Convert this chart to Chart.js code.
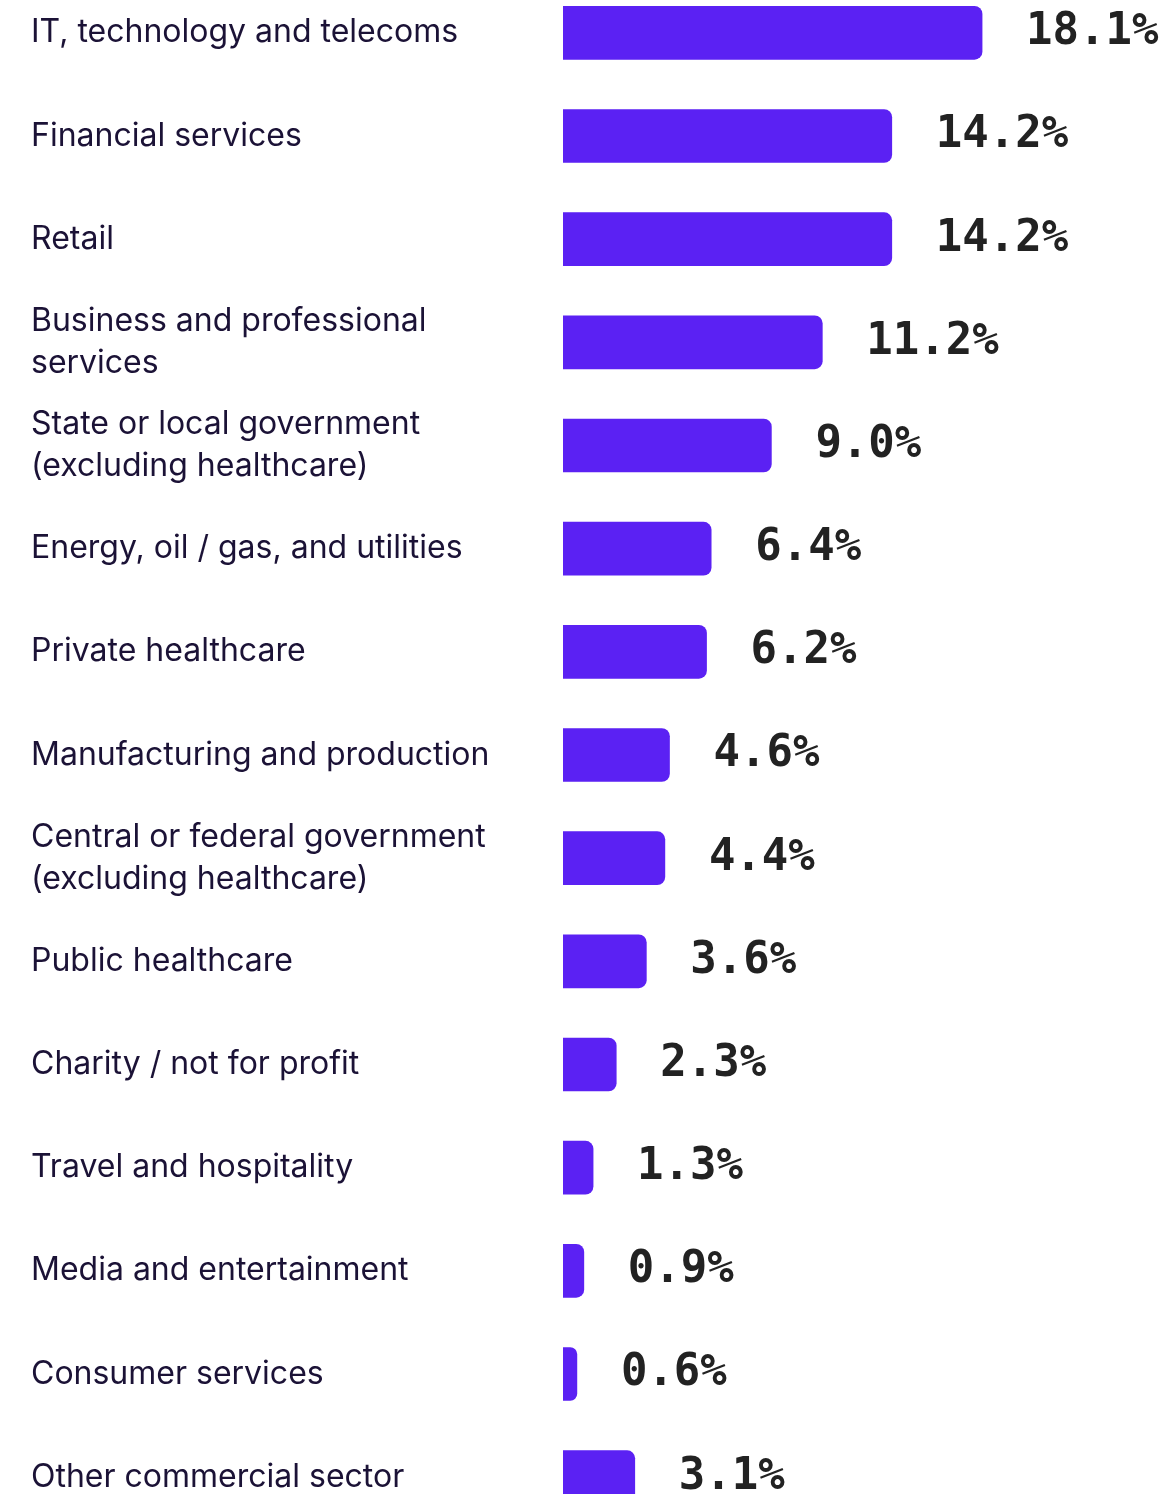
<!DOCTYPE html>
<html>
<head>
<meta charset="utf-8">
<title>Sectors</title>
<script src="https://cdn.jsdelivr.net/npm/chart.js@4"></script>
<style>
  html, body { margin: 0; padding: 0; background: #fff; overflow: hidden; }
  body { width: 1174px; height: 1494px; position: relative; }
  #wrap { position: absolute; left: 0; top: -43px; width: 1174px; height: 1596px; }
</style>
</head>
<body>
<div id="wrap"><canvas id="sectors"></canvas></div>
<script>
// Sector names (arrays wrap onto two lines)
const sectors = [
    'IT, technology and telecoms',
    'Financial services',
    'Retail',
    ['Business and professional', 'services'],
    ['State or local government', '(excluding healthcare)'],
    'Energy, oil / gas, and utilities',
    'Private healthcare',
    'Manufacturing and production',
    ['Central or federal government', '(excluding healthcare)'],
    'Public healthcare',
    'Charity / not for profit',
    'Travel and hospitality',
    'Media and entertainment',
    'Consumer services',
    'Other commercial sector'
];

// Share of respondents, percent
const shares = [18.1, 14.2, 14.2, 11.2, 9.0, 6.4, 6.2, 4.6, 4.4, 3.6, 2.3, 1.3, 0.9, 0.6, 3.1];

const barColor = '#5b21f3';

// Writes the percentage just past the end of each bar
const valueLabels = {
    id: 'valueLabels',
    afterDatasetsDraw(chart) {
        const ctx = chart.ctx;
        const meta = chart.getDatasetMeta(0);
        ctx.save();
        ctx.font = 'bold 44px "DejaVu Sans Mono"';
        ctx.fillStyle = '#222222';
        ctx.textAlign = 'left';
        ctx.textBaseline = 'middle';
        meta.data.forEach((bar, i) => {
            ctx.fillText(shares[i].toFixed(1) + '%', bar.x + 44, bar.y);
        });
        ctx.restore();
    }
};

const ctx = document.getElementById('sectors').getContext('2d');
const chart = new Chart(ctx, {
    type: 'bar',
    data: {
        labels: sectors,
        datasets: [{
            data: shares,
            backgroundColor: barColor,
            borderWidth: 0,
            borderRadius: 8,
            barThickness: 53
        }]
    },
    options: {
        indexAxis: 'y',
        responsive: true,
        maintainAspectRatio: false,
        animation: false,
        layout: {
            padding: { left: 31, right: 9, top: 0, bottom: 0 }
        },
        plugins: {
            legend: { display: false },
            tooltip: { enabled: false }
        },
        scales: {
            x: {
                display: false,
                min: 0,
                max: 26
            },
            y: {
                grid: { display: false },
                border: { display: false },
                afterFit(scale) {
                    scale.width = 532;
                },
                ticks: {
                    crossAlign: 'far',
                    color: '#1b1236',
                    font: { family: 'Inter', size: 32, lineHeight: 1.33 }
                }
            }
        }
    },
    plugins: [valueLabels]
});
</script>
</body>
</html>
